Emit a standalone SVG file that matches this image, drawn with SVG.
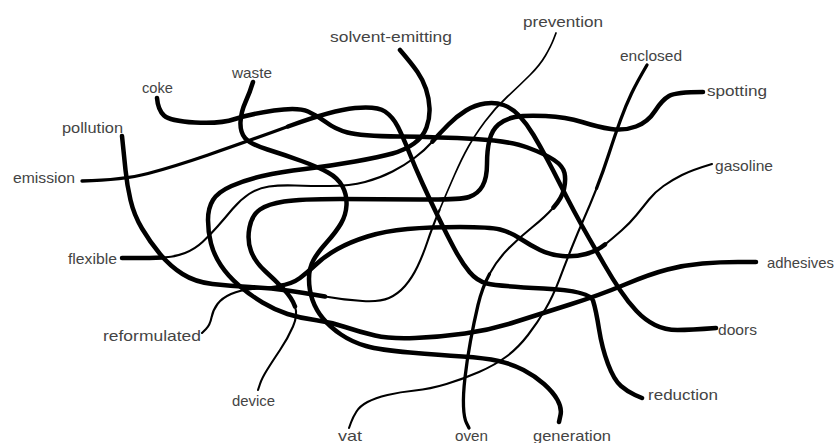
<svg xmlns="http://www.w3.org/2000/svg" width="835" height="443" viewBox="0 0 835 443">
<style>
.lbl{font-family:"Liberation Sans","DejaVu Sans",sans-serif;font-size:15px;fill:#444;}
path{fill:none;stroke:#000;stroke-linecap:round;stroke-linejoin:round;}
.k{stroke-width:4.5;}
.m{stroke-width:3.3;}
.t{stroke-width:2.1;}
.f{stroke-width:1.7;}
</style>
<rect width="835" height="443" fill="#fff"/>
<g id="connectors">
<g id="c-emission-reduction">
<path class="m" d="M82,181 Q123,180 148,173.5 Q173,167 208,155 Q243,143 288,126.5"/>
<path class="k" d="M288,126.5 Q333,110 355,108 Q377,106 385,111.5 Q393,117 398,127 Q403,137 409,152 Q415,167 422.5,183.5 Q430,200 438.5,217.5 Q447,235 454.5,249 Q462,263 469.5,272 Q477,281 487,283.5 Q497,286 543.5,288.5 Q590,291 593,300.5 Q596,310 599,329 Q602,348 608,364 Q614,380 621,386 Q628,392 635,395 L642,398"/>
</g>
<g id="c-coke-oven">
<path class="k" d="M157,98 Q158,110 164,115.5 Q170,121 195,122.5 Q220,124 235,119 Q250,114 274,110.5 Q298,107 308,111.5 Q318,116 326.5,122.5 Q335,129 347.5,132.5 Q360,136 400,136.5 Q440,137 475,139 Q510,141 527.5,147.5 Q545,154 554,160 Q563,166 564.5,173 Q566,180 564,189 Q562,198 553.5,207.5"/>
<path class="t" d="M553.5,207.5 Q545,217 532.5,227 Q520,237 508.5,248.5 Q497,260 489.5,274"/>
<path class="m" d="M489.5,274 Q482,288 478,305 Q474,322 470.5,341 Q467,360 465,377.5 Q463,395 463.5,406.5 Q464,418 466.5,423 L469,428"/>
</g>
<g id="c-waste-generation">
<path class="k" d="M253,82 Q250,92 245.5,102 Q241,112 240.5,122 Q240,132 245,138 Q250,144 267.5,149.5 Q285,155 301.5,161 Q318,167 328,172.5 Q338,178 342.5,186.5 Q347,195 346.5,205 Q346,215 341,223.5 Q336,232 327,242 Q318,252 313.5,260 Q309,268 309,279 Q309,290 312.5,300 Q316,310 323,318.5 Q330,327 341,334.5 Q352,342 366,346 Q380,350 410,352.5 Q440,355 462.5,356.5 Q485,358 498.5,361 Q512,364 523.5,370 Q535,376 544,384 Q553,392 557.5,400 Q562,408 560.5,415 L559,422"/>
</g>
<g id="c-pollution-prevention">
<path class="k" d="M122,136 Q124,155 125.5,170 Q127,185 130.5,200 Q134,215 142,228.5 Q150,242 160,254 Q170,266 182.5,274 Q195,282 212.5,284 Q230,286 250,287 Q270,288 287.5,290.5 Q305,293 325,296.5"/>
<path class="t" d="M325,296.5 Q345,300 362.5,301 Q380,302 389,298 Q398,294 405,286 Q412,278 417.5,266.5 Q423,255 427.5,241.5 Q432,228 439.5,210"/>
<path class="f" d="M439.5,210 Q447,192 454.5,175 Q462,158 468.5,146.5 Q475,135 485,121.5 Q495,108 507.5,96.5 Q520,85 530,75 Q540,65 545.5,55.5 Q551,46 553.5,39.5 L556,33"/>
</g>
<g id="c-spotting-device">
<path class="k" d="M703,92 Q676,92 669,96 Q662,100 655,111 Q648,122 636,126.5 Q624,131 611,129 Q598,127 582,122 Q566,117 545.5,116 Q525,115 515,117 Q505,119 498.5,124.5 Q492,130 489.5,140 Q487,150 487,164 Q487,178 482.5,186 Q478,194 469,197 Q460,200 420,199.5 Q380,199 340,199 Q300,199 284,201.5 Q268,204 260,209.5 Q252,215 249.5,227.5 Q247,240 251,251 Q255,262 265,271 Q275,280 283.5,289 Q292,298 295,306.5"/>
<path class="t" d="M295,306.5 Q298,315 293,326.5 Q288,338 280,350 Q272,362 267,370 Q262,378 260,384 L258,390"/>
</g>
<g id="c-enclosed-vat">
<path class="m" d="M647,65 Q637,82 631.5,93.5 Q626,105 620.5,120 Q615,135 609,153.5 Q603,172 596.5,188.5"/>
<path class="t" d="M596.5,188.5 Q590,205 584,218.5 Q578,232 572,247 Q566,262 559.5,279 Q553,296 545.5,309 Q538,322 528,335 Q518,348 506.5,356.5 Q495,365 479,372 Q463,379 446.5,384 Q430,389 415,390.5 Q400,392 387.5,395 Q375,398 367.5,402 Q360,406 356.5,411.5 Q353,417 351,422.5 L349,428"/>
</g>
<g id="c-solvent-adhesives">
<path class="k" d="M400,50 Q412,64 417.5,72 Q423,80 426,89 Q429,98 429.5,108 Q430,118 426.5,127.5 Q423,137 414,143.5 Q405,150 392.5,153.5 Q380,157 355,161.5 Q330,166 305,169 Q280,172 262.5,176 Q245,180 231.5,186 Q218,192 213,200 Q208,208 208,220 Q208,232 211,243.5 Q214,255 221,265.5 Q228,276 239,285.5 Q250,295 262.5,302.5 Q275,310 287.5,314 Q300,318 315,320 Q330,322 345,327 Q360,332 375,335.5 Q390,339 415,338 Q440,337 465,333.5 Q490,330 515,322 Q540,314 570,304.5 Q600,295 625,284.5 Q650,274 667.5,269.5 Q685,265 702.5,263.5 Q720,262 738,262 L756,262"/>
</g>
<g id="c-doors-flexible">
<path class="k" d="M716,328 Q690,330 677.5,330 Q665,330 655,325 Q645,320 636.5,311 Q628,302 620,290 Q612,278 604.5,265 Q597,252 589.5,239 Q582,226 574.5,212 Q567,198 560,184 Q553,170 546.5,158 Q540,146 533.5,135 Q527,124 519.5,116 Q512,108 503.5,105 Q495,102 485,103.5 Q475,105 466,110.5 Q457,116 448.5,124.5 Q440,133 432.5,141.5"/>
<path class="t" d="M432.5,141.5 Q425,150 415,157.5 Q405,165 392.5,171.5 Q380,178 365,182 Q350,186 330,186 Q310,186 295,185.5 Q280,185 269,186.5 Q258,188 249,194 Q240,200 232.5,209 Q225,218 217.5,226.5 Q210,235 202.5,242 Q195,249 185,253 Q175,257 162.5,257.5"/>
<path class="k" d="M162.5,257.5 Q150,258 136,258 L122,258"/>
</g>
<g id="c-gasoline-reformulated">
<path class="t" d="M712,164 Q692,170 682,175 Q672,180 663.5,186 Q655,192 649,199.5 Q643,207 636.5,215 Q630,223 621.5,230.5 Q613,238 605,244.5"/>
<path class="k" d="M605,244.5 Q597,251 586,254 Q575,257 562.5,256 Q550,255 540,250 Q530,245 520,238.5 Q510,232 500,229.5 Q490,227 460,227 Q430,227 407.5,229 Q385,231 367.5,236.5 Q350,242 337.5,249 Q325,256 316.5,264 Q308,272 300,278 Q292,284 278.5,286"/>
<path class="t" d="M278.5,286 Q265,288 252.5,289 Q240,290 231,294 Q222,298 217.5,304 Q213,310 211.5,317.5 Q210,325 206,329 L202,333"/>
</g>
</g>
<g id="n-solvent-emitting"><text class="lbl" x="330" y="42" textLength="122" lengthAdjust="spacingAndGlyphs">solvent-emitting</text></g>
<g id="n-prevention"><text class="lbl" x="523" y="27" textLength="80" lengthAdjust="spacingAndGlyphs">prevention</text></g>
<g id="n-enclosed"><text class="lbl" x="620" y="61" textLength="62" lengthAdjust="spacingAndGlyphs">enclosed</text></g>
<g id="n-spotting"><text class="lbl" x="707" y="96" textLength="60" lengthAdjust="spacingAndGlyphs">spotting</text></g>
<g id="n-gasoline"><text class="lbl" x="715" y="171" textLength="58" lengthAdjust="spacingAndGlyphs">gasoline</text></g>
<g id="n-adhesives"><text class="lbl" x="767" y="268" textLength="67" lengthAdjust="spacingAndGlyphs">adhesives</text></g>
<g id="n-doors"><text class="lbl" x="718" y="335" textLength="39" lengthAdjust="spacingAndGlyphs">doors</text></g>
<g id="n-reduction"><text class="lbl" x="648" y="400" textLength="70" lengthAdjust="spacingAndGlyphs">reduction</text></g>
<g id="n-generation"><text class="lbl" x="533" y="441" textLength="78" lengthAdjust="spacingAndGlyphs">generation</text></g>
<g id="n-oven"><text class="lbl" x="455" y="441" textLength="33" lengthAdjust="spacingAndGlyphs">oven</text></g>
<g id="n-vat"><text class="lbl" x="338" y="441" textLength="24" lengthAdjust="spacingAndGlyphs">vat</text></g>
<g id="n-device"><text class="lbl" x="232" y="406" textLength="43" lengthAdjust="spacingAndGlyphs">device</text></g>
<g id="n-reformulated"><text class="lbl" x="103" y="341" textLength="98" lengthAdjust="spacingAndGlyphs">reformulated</text></g>
<g id="n-flexible"><text class="lbl" x="68" y="264" textLength="49" lengthAdjust="spacingAndGlyphs">flexible</text></g>
<g id="n-emission"><text class="lbl" x="13" y="183" textLength="62" lengthAdjust="spacingAndGlyphs">emission</text></g>
<g id="n-pollution"><text class="lbl" x="62" y="133" textLength="61" lengthAdjust="spacingAndGlyphs">pollution</text></g>
<g id="n-coke"><text class="lbl" x="142" y="93" textLength="31" lengthAdjust="spacingAndGlyphs">coke</text></g>
<g id="n-waste"><text class="lbl" x="232" y="78" textLength="40" lengthAdjust="spacingAndGlyphs">waste</text></g>
</svg>
